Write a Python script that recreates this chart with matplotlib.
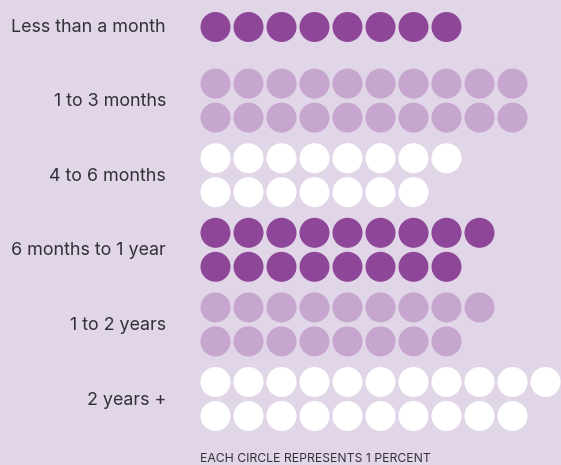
import matplotlib.pyplot as plt
from matplotlib.patches import Circle

# data: one circle = 1 percent, split over at most two rows per category
categories = ["Less than a month", "1 to 3 months", "4 to 6 months",
              "6 months to 1 year", "1 to 2 years", "2 years +"]
row1 = [8, 10, 8, 9, 9, 11]
row2 = [0, 10, 7, 8, 8, 10]
footer = "EACH CIRCLE REPRESENTS 1 PERCENT"

# style
bg = "#e1d5e8"
dark = "#8d4698"
light = "#c6a6ce"
white = "#ffffff"
colors = [dark, light, white, dark, light, white]

plt.rcParams['font.family'] = ['Inter', 'DejaVu Sans']

W, H = 561, 465
fig = plt.figure(figsize=(W / 100, H / 100), dpi=100)
fig.patch.set_facecolor(bg)
ax = fig.add_axes([0, 0, 1, 1])
ax.set_facecolor(bg)
ax.set_xlim(0, W)
ax.set_ylim(H, 0)
ax.set_aspect("equal")
ax.axis("off")

x0 = 215.5      # first circle center
dx = 33         # circle spacing
r = 15          # radius
group_step = 74.6
row_off = 17

for i, cat in enumerate(categories):
    yc = 26 + group_step * i
    if row2[i] > 0:
        rows = [(yc - row_off, row1[i]), (yc + row_off, row2[i])]
    else:
        rows = [(yc + 1, row1[i])]
    for y, n in rows:
        for k in range(n):
            ax.add_patch(Circle((x0 + dx * k, y), r, facecolor=colors[i],
                                edgecolor="none"))
    ax.text(166, yc + 1, cat, ha="right", va="center", fontsize=12.9,
            color="#333036")

ax.text(200, 459, footer, ha="left", va="center", fontsize=8.8,
        color="#333036")

fig.savefig("out.png", dpi=100, facecolor=bg)
